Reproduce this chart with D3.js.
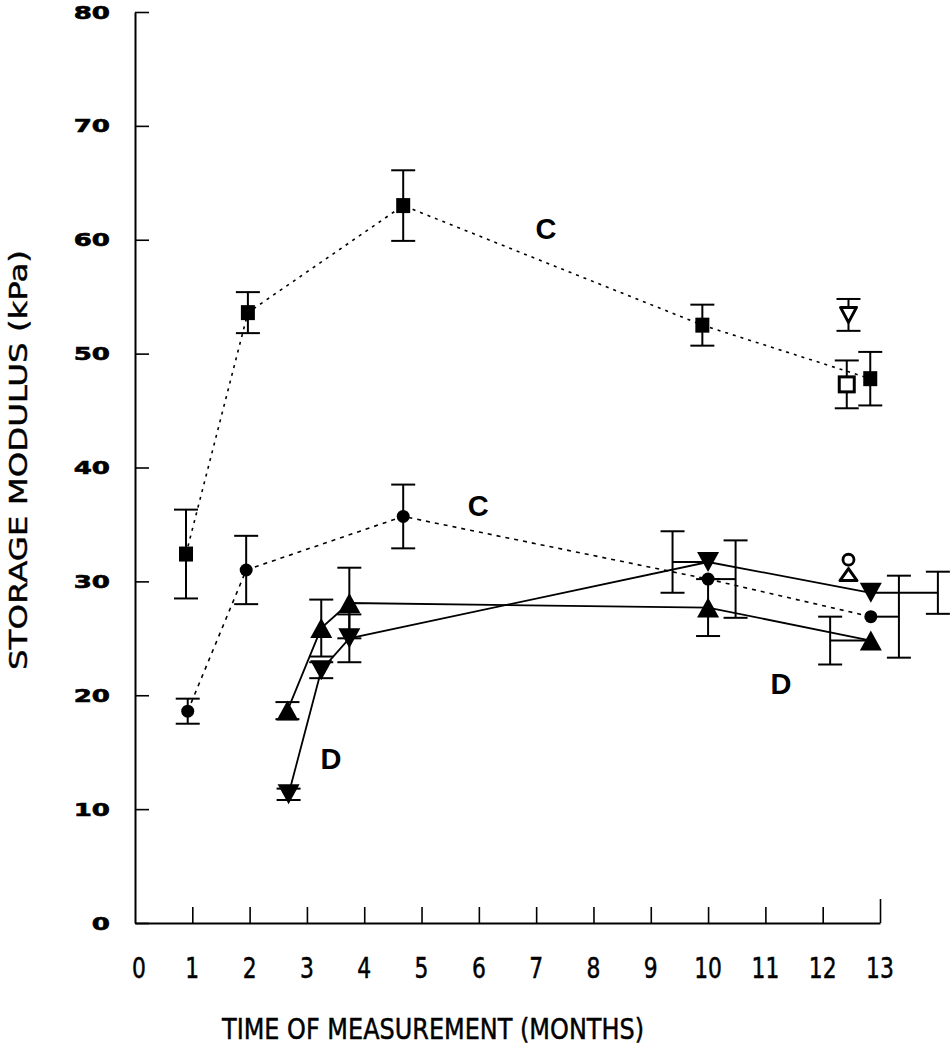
<!DOCTYPE html>
<html>
<head>
<meta charset="utf-8">
<script src="https://cdn.jsdelivr.net/npm/d3@7"></script>
<style>
  html, body { margin: 0; padding: 0; background: #fff; }
  svg { display: block; }
  text { font-family: "DejaVu Sans", sans-serif; fill: #000; }
</style>
</head>
<body>
<svg id="chart" width="952" height="1050"></svg>
<script>
// ---------- data ----------
const xTickValues = [0,1,2,3,4,5,6,7,8,9,10,11,12,13];
const yTickValues = [0,10,20,30,40,50,60,70,80];

// series C (upper): filled squares, dotted line
const squaresC = [
  {x:0.89, y:32.4, e:3.9},
  {x:1.97, y:53.6, e:1.8},
  {x:4.68, y:63.0, e:3.1},
  {x:9.90, y:52.5, e:1.8},
  {x:12.83, y:47.8, e:2.35}
];
// series C (lower): filled circles, dotted line
const circlesC = [
  {x:0.92, y:18.6, e:1.1},
  {x:1.94, y:31.0, e:3.0},
  {x:4.68, y:35.7, e:2.8},
  {x:10.0, y:30.2, e:3.4, ex:10.48},
  {x:12.84, y:26.9, e:3.6, ex:13.33}
];
// series D: filled up-triangles, solid line
const upTriD = [
  {x:2.66, y:18.65, e:0.75},
  {x:3.25, y:25.9, e:2.5},
  {x:3.74, y:28.1, e:3.1},
  {x:10.0, y:27.7, e:2.5},
  {x:12.84, y:24.8, e:2.1, ex:12.13}
];
// series D: filled down-triangles, solid line
const downTriD = [
  {x:2.68, y:11.3, e:0.5},
  {x:3.25, y:22.2, e:0.7},
  {x:3.74, y:25.0, e:2.1},
  {x:10.0, y:31.7, e:2.7, ex:9.38},
  {x:12.84, y:29.0, e:1.85, ex:14.01}
];
// open (unconnected) markers
const openSquares = [{x:12.42, y:47.3, e:2.1}];
const openDownTri = [{x:12.45, y:53.4, e:1.4}];
const openCircles = [{x:12.45, y:31.9}];
const openUpTri   = [{x:12.45, y:30.6}];

const annotations = [
  {text:"C", x:7.17, y:61.0},
  {text:"C", x:5.99, y:36.7},
  {text:"D", x:3.42, y:14.5},
  {text:"D", x:11.27, y:21.1}
];

// ---------- scales ----------
const svg = d3.select("#chart");
const x = d3.scaleLinear().domain([0,13]).range([135, 880]);
const y = d3.scaleLinear().domain([0,80]).range([923, 12]);

// ---------- axes ----------
const yAxis = d3.axisLeft(y).tickValues(yTickValues).tickSize(-14).tickSizeOuter(0).tickFormat("");
const gy = svg.append("g").attr("transform", `translate(${x(0)},0)`).call(yAxis);
const xAxis = d3.axisBottom(x).tickValues(xTickValues.filter(v => v > 0)).tickSize(-16).tickSizeOuter(0).tickFormat("");
const gx = svg.append("g").attr("transform", `translate(0,${y(0)})`).call(xAxis);
svg.selectAll(".domain").attr("stroke", "#000").attr("stroke-width", 2);
svg.selectAll(".tick line").attr("stroke", "#000").attr("stroke-width", 1.6);
gx.selectAll(".tick").filter(d => d === 13).select("line").attr("y2", -24);

// y tick labels (bold, wide)
svg.append("g").selectAll("text").data(yTickValues).join("text")
  .attr("transform", d => `translate(110,${y(d) + 6.5}) scale(1.45,1)`)
  .attr("text-anchor", "end")
  .style("font-weight", "bold")
  .style("font-size", "18px")
  .style("stroke", "#000").style("stroke-width", 0.6)
  .text(d => d);

// x tick labels (condensed)
svg.append("g").selectAll("text").data(xTickValues).join("text")
  .attr("transform", d => `translate(${x(d) + (d === 0 ? 4 : 0)},978) scale(0.78,1)`)
  .attr("text-anchor", "middle")
  .style("font-size", "28px")
  .style("stroke", "#000").style("stroke-width", 0.5)
  .text(d => d);

// axis titles
svg.append("text")
  .attr("x", 433).attr("y", 1039)
  .attr("text-anchor", "middle")
  .attr("textLength", 422).attr("lengthAdjust", "spacingAndGlyphs")
  .style("font-size", "29px")
  .style("stroke", "#000").style("stroke-width", 0.5)
  .text("TIME OF MEASUREMENT (MONTHS)");

svg.append("text")
  .attr("transform", "translate(27,460) rotate(-90)")
  .attr("text-anchor", "middle")
  .attr("textLength", 420).attr("lengthAdjust", "spacingAndGlyphs")
  .style("font-size", "25px")
  .style("stroke", "#000").style("stroke-width", 0.4)
  .text("STORAGE MODULUS (kPa)");

// ---------- lines ----------
const line = d3.line().x(d => x(d.x)).y(d => y(d.y));
const plot = svg.append("g");
plot.append("path").datum(squaresC).attr("d", line)
  .attr("fill", "none").attr("stroke", "#000").attr("stroke-width", 1.6).attr("stroke-dasharray", "3,5");
plot.append("path").datum(circlesC).attr("d", line)
  .attr("fill", "none").attr("stroke", "#000").attr("stroke-width", 1.6).attr("stroke-dasharray", "4,5");
plot.append("path").datum(upTriD).attr("d", line)
  .attr("fill", "none").attr("stroke", "#000").attr("stroke-width", 1.8);
plot.append("path").datum(downTriD).attr("d", line)
  .attr("fill", "none").attr("stroke", "#000").attr("stroke-width", 1.8);

// ---------- error bars ----------
const allErr = [].concat(squaresC, circlesC, upTriD, downTriD, openSquares, openDownTri);
const eb = plot.append("g").attr("stroke", "#000").attr("stroke-width", 2).attr("fill", "none");
const capW = 12;
allErr.forEach(d => {
  const ex = d.ex !== undefined ? d.ex : d.x;
  const px = x(ex);
  eb.append("line").attr("x1", px).attr("x2", px).attr("y1", y(d.y + d.e)).attr("y2", y(d.y - d.e));
  eb.append("line").attr("x1", px - capW).attr("x2", px + capW).attr("y1", y(d.y + d.e)).attr("y2", y(d.y + d.e));
  eb.append("line").attr("x1", px - capW).attr("x2", px + capW).attr("y1", y(d.y - d.e)).attr("y2", y(d.y - d.e));
  if (d.ex !== undefined) {
    eb.append("line").attr("x1", x(d.x)).attr("x2", px).attr("y1", y(d.y)).attr("y2", y(d.y));
  }
});

// ---------- markers ----------
const mk = plot.append("g");
mk.selectAll(".sq").data(squaresC).join("rect")
  .attr("x", d => x(d.x) - 7).attr("y", d => y(d.y) - 7.5)
  .attr("width", 14).attr("height", 15).attr("fill", "#000");
mk.selectAll(".ci").data(circlesC).join("circle")
  .attr("cx", d => x(d.x)).attr("cy", d => y(d.y)).attr("r", 6.5).attr("fill", "#000");
const triUp = (w, h) => `M0,${-h/2}L${w/2},${h/2}L${-w/2},${h/2}Z`;
const triDown = (w, h) => `M0,${h/2}L${w/2},${-h/2}L${-w/2},${-h/2}Z`;
mk.selectAll(".tu").data(upTriD).join("path")
  .attr("transform", d => `translate(${x(d.x)},${y(d.y)})`)
  .attr("d", triUp(22, 20)).attr("fill", "#000");
mk.selectAll(".td").data(downTriD).join("path")
  .attr("transform", d => `translate(${x(d.x)},${y(d.y)})`)
  .attr("d", triDown(22, 20)).attr("fill", "#000");
// open markers
mk.selectAll(".osq").data(openSquares).join("rect")
  .attr("x", d => x(d.x) - 7.5).attr("y", d => y(d.y) - 7.5)
  .attr("width", 15).attr("height", 15).attr("fill", "#fff").attr("stroke", "#000").attr("stroke-width", 3);
mk.selectAll(".otd").data(openDownTri).join("path")
  .attr("transform", d => `translate(${x(d.x)},${y(d.y)})`)
  .attr("d", triDown(16, 15)).attr("fill", "#fff").attr("stroke", "#000").attr("stroke-width", 3).attr("stroke-linejoin", "round");
mk.selectAll(".otu").data(openUpTri).join("path")
  .attr("transform", d => `translate(${x(d.x)},${y(d.y)})`)
  .attr("d", triUp(17, 12)).attr("fill", "#fff").attr("stroke", "#000").attr("stroke-width", 3).attr("stroke-linejoin", "round");
mk.selectAll(".oci").data(openCircles).join("circle")
  .attr("cx", d => x(d.x)).attr("cy", d => y(d.y)).attr("r", 5.5)
  .attr("fill", "#fff").attr("stroke", "#000").attr("stroke-width", 2.8);

// ---------- annotations ----------
svg.append("g").selectAll("text").data(annotations).join("text")
  .attr("x", d => x(d.x)).attr("y", d => y(d.y) + 11)
  .attr("text-anchor", "middle")
  .style("font-family", "'Liberation Sans', Arial, sans-serif")
  .style("font-weight", "bold")
  .style("font-size", "29px")
  .text(d => d.text);
</script>
</body>
</html>
